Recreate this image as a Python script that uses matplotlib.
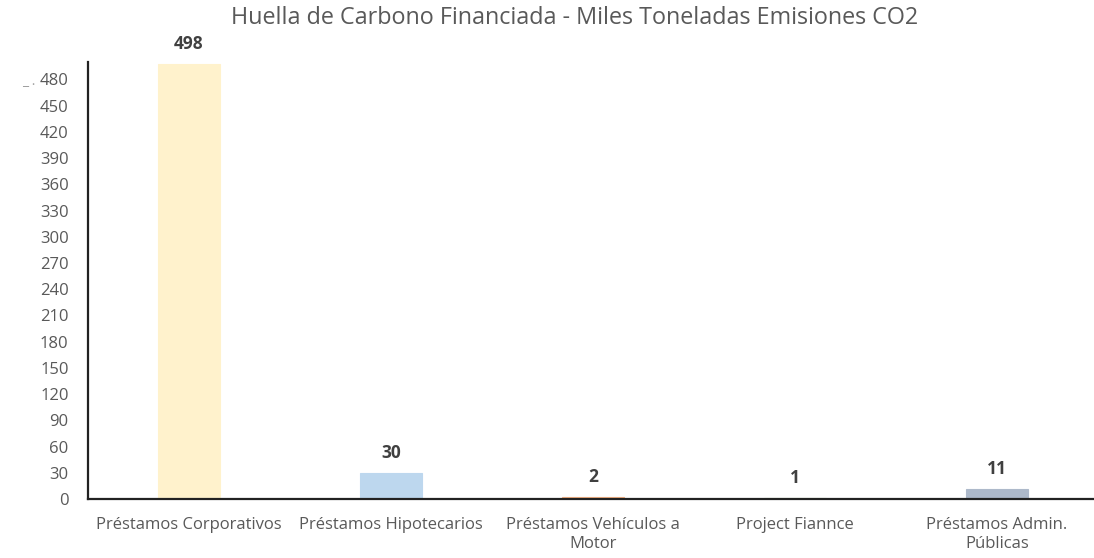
import matplotlib.pyplot as plt

categories = ['Préstamos Corporativos', 'Préstamos Hipotecarios',
              'Préstamos Vehículos a\nMotor', 'Project Fiannce',
              'Préstamos Admin.\nPúblicas']
values = [498, 30, 2, 1, 11]
colors = ['#FFF2CC', '#BDD7EE', '#F4B183', '#A9D18E', '#ADB9CA']
yticks = list(range(0, 481, 30))

plt.rcParams['font.family'] = ['Open Sans', 'DejaVu Sans']
gray = '#595959'

fig = plt.figure(figsize=(10.94, 5.58), dpi=100)
ax = fig.add_axes([88 / 1094, 59 / 558, 1010 / 1094, 437 / 558])

x = range(len(categories))
bars = ax.bar(x, values, width=0.31, color=colors, edgecolor=colors, linewidth=0.8)
for xi, v in zip(x, values):
    ax.annotate(str(v), (xi, v), xytext=(0, 8), textcoords='offset points',
                ha='center', va='bottom', fontsize=12.5, fontweight='bold', color='#404040')

ax.set_xlim(-0.5, len(categories) - 0.5)
ax.set_ylim(0, 500)
ax.set_yticks(yticks)
ax.set_xticks(list(x))
ax.set_xticklabels(categories, fontsize=12, color=gray, linespacing=1.25)
ax.tick_params(axis='y', labelsize=12, labelcolor=gray, length=0, pad=14)
ax.tick_params(axis='x', length=0, pad=13)

for s in ['top', 'right']:
    ax.spines[s].set_visible(False)
for s in ['left', 'bottom']:
    ax.spines[s].set_linewidth(1.6)
    ax.spines[s].set_color('#222222')

fig.text(575 / 1094, 1 - 18 / 558, 'Huella de Carbono Financiada - Miles Toneladas Emisiones CO2',
         ha='center', va='center', fontsize=16.8, color=gray)
fig.text(22 / 1094, 1 - 82 / 558, '_ .', ha='left', va='center', fontsize=10, color='#a0a0a0')

fig.savefig('out.png', dpi=100)
